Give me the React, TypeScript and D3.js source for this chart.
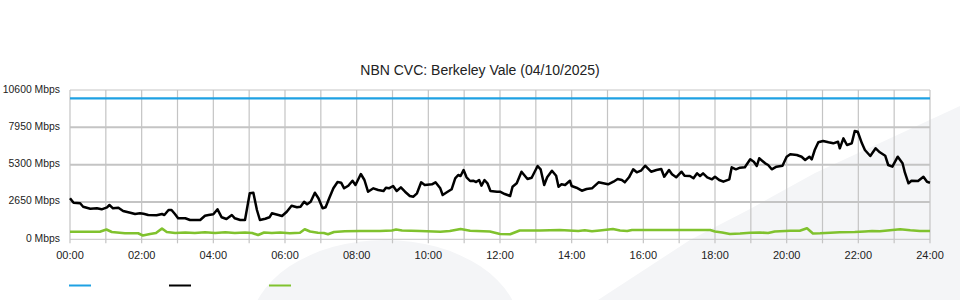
import React from "react";
import * as d3 from "d3";

const title = "NBN CVC: Berkeley Vale (04/10/2025)";
const yTicks = [0, 2650, 5300, 7950, 10600];
const xTickHours = [0, 2, 4, 6, 8, 10, 12, 14, 16, 18, 20, 22, 24];
const capacityValue = 10000;

const blackTimes = [0,6,17,22,34,45,53,62,66,72,81,89,101,109,117,123,131,145,154,158,165,170,176,181,193,201,218,226,232,240,247,254,262,271,276,285,293,301,307,313,318,327,334,338,349,355,363,371,380,386,392,397,403,410,416,423,428,434,441,448,454,459,466,473,478,487,493,499,508,516,525,529,534,541,547,554,561,569,575,581,588,594,606,612,620,624,631,639,645,650,654,659,664,670,675,680,685,689,694,699,704,715,720,728,737,741,748,756,766,773,783,788,794,799,807,814,818,823,829,837,840,848,857,865,874,885,893,901,910,917,924,929,936,943,949,956,963,973,982,990,995,1003,1008,1015,1024,1029,1038,1044,1050,1055,1060,1067,1075,1080,1087,1094,1104,1108,1115,1122,1130,1139,1145,1150,1154,1164,1169,1175,1183,1193,1200,1206,1217,1225,1231,1238,1242,1247,1253,1261,1270,1278,1286,1289,1295,1301,1309,1314,1319,1326,1331,1340,1349,1356,1365,1370,1377,1386,1394,1398,1404,1409,1420,1429,1435,1440];
const blackValues = [2911,2598,2556,2314,2172,2201,2130,2272,2435,2201,2243,2009,1888,1796,1846,1817,1725,1704,1796,1725,2080,2080,1775,1491,1491,1370,1370,1675,1725,1775,2130,1562,1441,1725,1491,1370,1370,3266,3308,2080,1370,1462,1562,1846,1725,1654,1959,2385,2272,2314,2669,2485,2669,3308,2911,2201,2272,2911,3620,4068,4018,3620,3805,4160,3855,4636,4210,3379,3620,3500,3429,3663,3620,3784,3429,3691,3379,3074,3024,3266,4046,3855,3904,4046,3620,3145,3337,3550,4330,4565,4494,4920,4401,4139,4160,4068,4210,3805,4210,3975,3429,3379,3379,3216,3074,3734,3975,4799,4281,4373,5204,4969,3855,4401,4870,4515,3734,3904,3855,4160,3784,3663,3450,3571,3620,4046,3975,3904,4089,4281,4210,4046,4401,4969,4756,4870,5225,4799,4920,4991,4444,4920,4614,4401,4799,4515,4494,4330,4685,4494,4685,4401,4259,4444,4210,4089,4259,5111,4969,5083,5111,5679,5509,5204,5750,5395,5275,4969,5154,5225,5864,6034,5985,5864,5630,5864,5679,6340,6886,6978,6886,6815,6929,6460,7170,6694,6815,7688,7639,6815,6340,5913,6460,6176,5935,5275,5154,5864,5395,4728,3975,4160,4139,4444,4089,4018];

const greenTimes = [0,50,61,70,92,114,122,134,144,154,162,176,193,209,226,243,260,276,293,305,315,325,338,352,368,385,393,402,415,425,432,442,460,486,519,539,546,556,586,620,636,654,670,703,720,737,753,787,820,851,862,874,887,909,921,933,941,988,1055,1072,1080,1092,1105,1122,1139,1155,1169,1180,1206,1222,1234,1244,1256,1273,1289,1314,1331,1343,1356,1373,1390,1407,1423,1440];
const greenValues = [540,540,695,518,426,426,270,376,447,767,518,447,483,447,497,447,497,447,483,447,305,483,447,483,426,469,710,554,469,447,355,518,568,589,589,625,696,625,589,540,589,731,611,554,376,355,625,625,660,589,639,568,625,731,625,589,660,660,660,660,554,483,376,412,469,483,447,554,611,611,781,412,426,469,497,518,554,589,568,639,710,639,589,589];

const legendColors = ["#1ea1e3", "#000000", "#80c22e"];

export default function App() {
  const W = 960, H = 300;
  const left = 70, right = 930, top = 90, bottom = 239.3;
  const x = d3.scaleLinear().domain([0, 1440]).range([left, right]);
  const y = d3.scaleLinear().domain([0, 10600]).range([bottom, top]);
  const hours = d3.range(0, 25);

  const line = d3.line<[number, number]>().x(d => x(d[0])).y(d => y(d[1]));
  const blackPts = blackTimes.map((t, i) => [t, blackValues[i]] as [number, number]);
  const greenPts = greenTimes.map((t, i) => [t, greenValues[i]] as [number, number]);
  const capPts: [number, number][] = [[0, capacityValue], [1440, capacityValue]];
  const fmt = (h: number) => String(h).padStart(2, "0") + ":00";
  const font = "'Liberation Sans', Arial, Helvetica, sans-serif";

  return (
    <svg width={W} height={H} style={{ position: "absolute", left: 0, top: 0, display: "block" }} fontFamily={font}>
      <rect x={0} y={0} width={W} height={H} fill="#ffffff" />
      {/* watermark shapes */}
      <ellipse cx={385} cy={330} rx={135} ry={90} fill="#f4f5f7" />
      <path d="M598,300 L690,240 L750,209 L815,173 L960,106 L960,300 Z" fill="#f4f5f7" />

      <text x={480} y={75} textAnchor="middle" fontSize={14} fill="#222">{title}</text>

      {/* vertical grid */}
      {hours.map(h => (
        <line key={"v" + h} x1={x(h * 60)} x2={x(h * 60)} y1={top} y2={bottom + 4} stroke="#c4c4c4" strokeWidth={1.2} />
      ))}
      {/* horizontal grid */}
      {yTicks.map(v => (
        <line key={"h" + v} x1={left} x2={right} y1={y(v)} y2={y(v)} stroke="#c4c4c4"
          strokeWidth={v === 0 || v === 10600 ? 1 : 2} />
      ))}

      {yTicks.map(v => (
        <text key={"yl" + v} x={60} y={y(v) + 2.5} textAnchor="end" fontSize={10.4} fill="#222">{v + " Mbps"}</text>
      ))}
      {xTickHours.map(h => (
        <text key={"xl" + h} x={x(h * 60)} y={259} textAnchor="middle" fontSize={11} fill="#222">{fmt(h)}</text>
      ))}

      <path d={line(capPts) || ""} fill="none" stroke={legendColors[0]} strokeWidth={2.2} />
      <path d={line(greenPts) || ""} fill="none" stroke={legendColors[2]} strokeWidth={2.6} strokeLinejoin="round" />
      <path d={line(blackPts) || ""} fill="none" stroke={legendColors[1]} strokeWidth={2.5} strokeLinejoin="round" />

      {legendColors.map((c, i) => (
        <line key={"lg" + i} x1={69 + i * 100} x2={91 + i * 100} y1={285.5} y2={285.5} stroke={c} strokeWidth={2} />
      ))}
    </svg>
  );
}
